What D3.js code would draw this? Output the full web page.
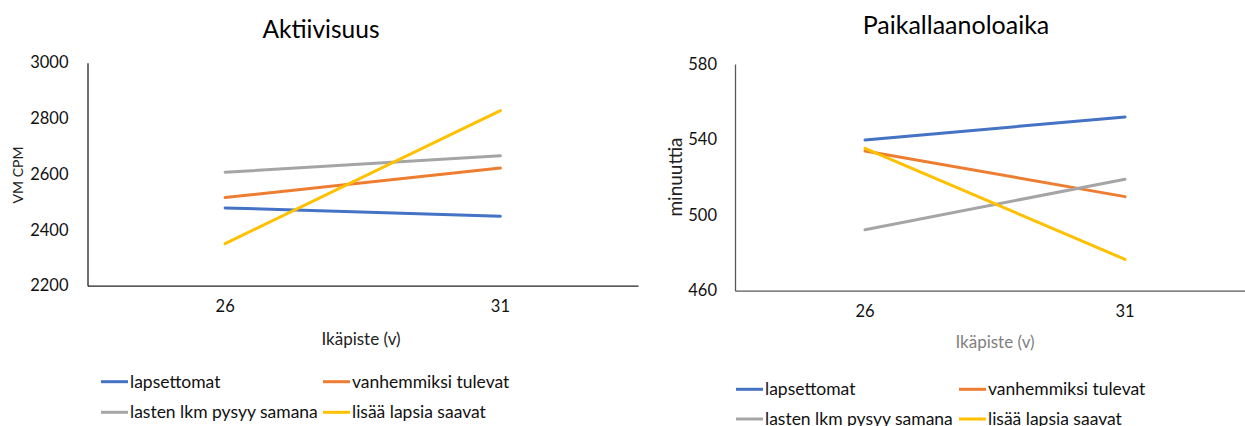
<!DOCTYPE html>
<html>
<head>
<meta charset="utf-8">
<script src="https://cdn.jsdelivr.net/npm/d3@7"></script>
<style>
  html, body { margin: 0; padding: 0; background: #fff; }
  svg { display: block; font-family: Lato, "Open Sans", sans-serif; }
</style>
</head>
<body>
<svg id="chart" width="1245" height="426"></svg>
<script>
// Age points (years)
const ages = ["26", "31"];

// Group names and colours
const groups = ["lapsettomat", "vanhemmiksi tulevat", "lasten lkm pysyy samana", "lisää lapsia saavat"];
const colors = ["#4472C4", "#ED7D31", "#A5A5A5", "#FFC000"];

// Activity (VM CPM) per group at ages 26 and 31
const activityLapsettomat = [2479, 2449];
const activityVanhemmiksi = [2516, 2622];
const activitySamana = [2607, 2666];
const activityLisaa = [2351, 2828];
const activityTicks = [2200, 2400, 2600, 2800, 3000];

// Sedentary time (minutes) per group at ages 26 and 31
const sittingLapsettomat = [539.8, 552];
const sittingVanhemmiksi = [534, 509.8];
const sittingSamana = [492.3, 519];
const sittingLisaa = [535.4, 476.6];
const sittingTicks = [460, 500, 540, 580];

const svg = d3.select("#chart");

function panel(opt) {
  const g = svg.append("g");
  const x = d3.scaleBand().domain(ages).range([opt.x0, opt.x1]);
  const y = d3.scaleLinear().domain(opt.domain).range([opt.yBottom, opt.yTop]);

  // title
  g.append("text").attr("x", opt.titleX).attr("y", opt.titleY)
    .attr("text-anchor", "middle").attr("font-size", opt.titleSize)
    .attr("fill", "#000").text(opt.title);

  // y axis
  const ya = g.append("g").attr("transform", `translate(${opt.x0},0)`)
    .call(d3.axisLeft(y).tickValues(opt.ticks).tickFormat(d3.format("d"))
      .tickSize(0).tickPadding(opt.tickPad));
  ya.select(".domain").attr("stroke", opt.axisColor).attr("stroke-width", 1.3);
  ya.selectAll("text").attr("font-size", 16.5).attr("fill", "#111")
    .attr("font-family", "Lato, sans-serif");

  // x axis
  const xa = g.append("g").attr("transform", `translate(0,${opt.yBottom})`)
    .call(d3.axisBottom(x).tickSize(0).tickPadding(opt.xPad));
  xa.select(".domain").attr("stroke", opt.axisColor).attr("stroke-width", 1.3);
  xa.selectAll("text").attr("font-size", 16.5).attr("fill", "#111")
    .attr("font-family", "Lato, sans-serif");

  // axis titles
  g.append("text").attr("x", opt.xTitleX).attr("y", opt.xTitleY)
    .attr("text-anchor", "middle").attr("font-size", 17).attr("fill", opt.xTitleColor)
    .text("Ikäpiste (v)");
  g.append("text")
    .attr("transform", `translate(${opt.yTitleX},${opt.yTitleY}) rotate(-90)`)
    .attr("text-anchor", "middle").attr("font-size", opt.yTitleSize).attr("fill", "#222")
    .text(opt.yTitle);

  // series lines
  const line = d3.line().x((d, i) => x(ages[i]) + x.bandwidth() / 2).y(d => y(d));
  opt.series.forEach((s, i) => {
    g.append("path").datum(s).attr("d", line)
      .attr("fill", "none").attr("stroke", colors[i]).attr("stroke-width", 3)
      .attr("stroke-linecap", "round");
  });

  // legend
  groups.forEach((name, i) => {
    const lx = opt.legX[i % 2], ly = opt.legY[Math.floor(i / 2)];
    g.append("line").attr("x1", lx).attr("x2", lx + 27).attr("y1", ly).attr("y2", ly)
      .attr("stroke", colors[i]).attr("stroke-width", 3);
    g.append("text").attr("x", lx + 29).attr("y", ly).attr("dy", "0.35em")
      .attr("font-size", 17.5).attr("fill", "#111").text(name);
  });
}

panel({
  title: "Aktiivisuus", titleX: 321, titleY: 38, titleSize: 24.5,
  x0: 87.5, x1: 638, yTop: 62.7, yBottom: 285.7,
  domain: [2200, 3000], ticks: activityTicks, tickPad: 19, xPad: 15,
  axisColor: "#222",
  xTitleX: 361, xTitleY: 345, xTitleColor: "#222",
  yTitle: "VM CPM", yTitleX: 23, yTitleY: 175, yTitleSize: 14,
  series: [activityLapsettomat, activityVanhemmiksi, activitySamana, activityLisaa],
  legX: [101, 323], legY: [381.7, 412.3]
});

panel({
  title: "Paikallaanoloaika", titleX: 956, titleY: 34, titleSize: 25,
  x0: 735, x1: 1255, yTop: 64, yBottom: 290.7,
  domain: [460, 580], ticks: sittingTicks, tickPad: 18, xPad: 15,
  axisColor: "#595959",
  xTitleX: 995, xTitleY: 348, xTitleColor: "#7f7f7f",
  yTitle: "minuuttia", yTitleX: 682, yTitleY: 177, yTitleSize: 19,
  series: [sittingLapsettomat, sittingVanhemmiksi, sittingSamana, sittingLisaa],
  legX: [736, 959], legY: [389.3, 419]
});
</script>
</body>
</html>
